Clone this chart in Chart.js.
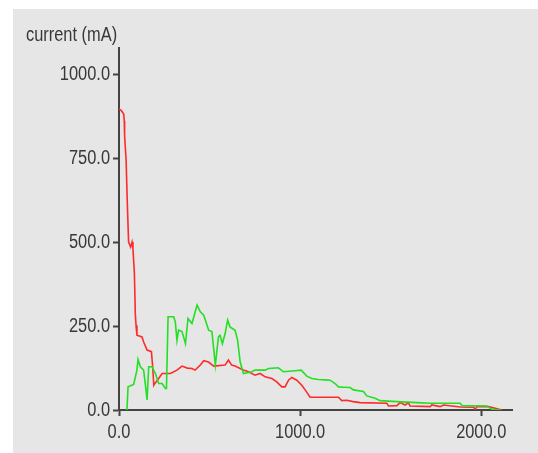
<!DOCTYPE html>
<html>
<head>
<meta charset="utf-8">
<script src="https://cdn.jsdelivr.net/npm/chart.js@4"></script>
<style>
  html, body { margin: 0; padding: 0; background: #ffffff; }
  #wrap { width: 538px; height: 453px; }
</style>
</head>
<body>
<div id="wrap"><canvas id="c" width="538" height="453"></canvas></div>
<script>
// ---- data ----
const redX = [0, 13, 26, 29, 31, 39, 46, 53, 64, 72, 77, 85, 90, 94, 99, 127, 136, 155, 179, 186, 192, 195, 219, 238, 284, 320, 348, 377, 403, 420, 449, 468, 494, 523, 586, 604, 622, 641, 669, 687, 715, 751, 779, 807, 844, 871, 899, 917, 936, 954, 982, 1009, 1028, 1055, 1129, 1212, 1230, 1257, 1294, 1331, 1479, 1488, 1534, 1552, 1580, 1598, 1607, 1718, 1727, 1773, 1792, 1884, 1958, 1967, 1976, 2040, 2077, 2114];
const redY = [898, 893, 883, 863, 818, 749, 615, 501, 486, 501, 482, 407, 288, 253, 223, 218, 203, 179, 174, 129, 74, 77, 94, 109, 109, 119, 131, 125, 124, 119, 134, 147, 143, 131, 134, 149, 134, 131, 124, 119, 114, 104, 109, 99, 94, 84, 69, 69, 89, 97, 89, 74, 60, 38, 38, 38, 28, 29, 25, 22, 20, 12, 13, 22, 15, 22, 12, 10, 15, 10, 15, 9, 8, 2, 10, 10, 5, 0];

const greenX = [44, 50, 81, 99, 105, 118, 136, 146, 155, 164, 182, 201, 219, 238, 256, 262, 271, 302, 311, 320, 329, 348, 367, 381, 403, 431, 449, 468, 495, 513, 532, 549, 558, 571, 586, 600, 613, 641, 655, 669, 687, 733, 751, 807, 826, 880, 908, 972, 1006, 1037, 1065, 1101, 1138, 1166, 1193, 1212, 1239, 1276, 1294, 1350, 1368, 1414, 1442, 1534, 1645, 1718, 1884, 1893, 2031, 2059, 2105];
const greenY = [0, 69, 76, 119, 151, 129, 119, 74, 30, 129, 129, 109, 79, 79, 64, 64, 278, 278, 263, 208, 238, 234, 198, 273, 258, 313, 293, 283, 238, 234, 134, 218, 223, 198, 228, 268, 248, 238, 208, 144, 109, 114, 119, 119, 124, 126, 114, 117, 119, 101, 94, 91, 90, 89, 79, 69, 68, 67, 60, 55, 42, 35, 28, 25, 22, 20, 20, 13, 12, 2, 0];

const xTicks = [0, 1000, 2000];
const yTicks = [0, 250, 500, 750, 1000];
const axisTitle = 'current (mA)';

// ---- chart ----
const FONT = '"Liberation Sans", Arial, sans-serif';
const TEXT = '#383838';
const AXIS = '#444444';
const NARROW = 0.82; // horizontal compression to mimic a narrow face

const toPts = (xs, ys) => xs.map((x, i) => ({ x: x, y: ys[i] }));

const bgPlugin = {
  id: 'bg',
  beforeDraw(chart) {
    const ctx = chart.ctx;
    if (!ctx.__narrow) {
      const orig = ctx.fillText;
      ctx.fillText = function (text, x, y, maxWidth) {
        this.save();
        this.translate(x, y);
        this.scale(NARROW, 1);
        if (maxWidth === undefined) orig.call(this, text, 0, 0);
        else orig.call(this, text, 0, 0, maxWidth / NARROW);
        this.restore();
      };
      ctx.__narrow = true;
    }
    ctx.save();
    ctx.fillStyle = '#ffffff';
    ctx.fillRect(0, 0, chart.width, chart.height);
    ctx.fillStyle = '#e6e6e6';
    ctx.fillRect(13, 9, chart.width - 13, chart.height - 9);
    ctx.restore();
  }
};

new Chart(document.getElementById('c'), {
  type: 'line',
  data: {
    datasets: [
      { data: toPts(greenX, greenY), borderColor: '#22e022', borderWidth: 1.6, pointRadius: 0, tension: 0, fill: false },
      { data: toPts(redX, redY), borderColor: '#ff2a2a', borderWidth: 1.6, pointRadius: 0, tension: 0, fill: false }
    ]
  },
  plugins: [bgPlugin],
  options: {
    responsive: false,
    animation: false,
    devicePixelRatio: 1,
    layout: { padding: { left: 26, right: 26, top: 23, bottom: 9 } },
    plugins: {
      legend: { display: false },
      tooltip: { enabled: false },
      title: {
        display: true,
        text: axisTitle,
        align: 'start',
        color: TEXT,
        font: { family: FONT, size: 20, weight: 'normal', lineHeight: 1.2 },
        padding: { top: 0, bottom: 1 }
      }
    },
    scales: {
      x: {
        type: 'linear',
        min: 0,
        max: 2170,
        afterBuildTicks: (s) => { s.ticks = xTicks.map(v => ({ value: v })); },
        afterFit: (s) => { s.height = 34; },
        grid: { drawOnChartArea: false, drawTicks: true, tickLength: 6, tickWidth: 2, tickColor: AXIS },
        border: { display: true, color: AXIS, width: 2 },
        ticks: {
          padding: 4,
          color: TEXT,
          maxRotation: 0,
          autoSkip: false,
          font: { family: FONT, size: 20, lineHeight: 1.2 },
          callback: (v) => Number(v).toFixed(1)
        }
      },
      y: {
        type: 'linear',
        min: 0,
        max: 1080,
        afterBuildTicks: (s) => { s.ticks = yTicks.map(v => ({ value: v })); },
        afterFit: (s) => { s.width = 93; },
        grid: { drawOnChartArea: false, drawTicks: true, tickLength: 6, tickWidth: 2, tickColor: AXIS },
        border: { display: true, color: AXIS, width: 2 },
        ticks: {
          padding: 3,
          color: TEXT,
          autoSkip: false,
          font: { family: FONT, size: 20, lineHeight: 1.2 },
          callback: (v) => Number(v).toFixed(1)
        }
      }
    }
  }
});
</script>
</body>
</html>
